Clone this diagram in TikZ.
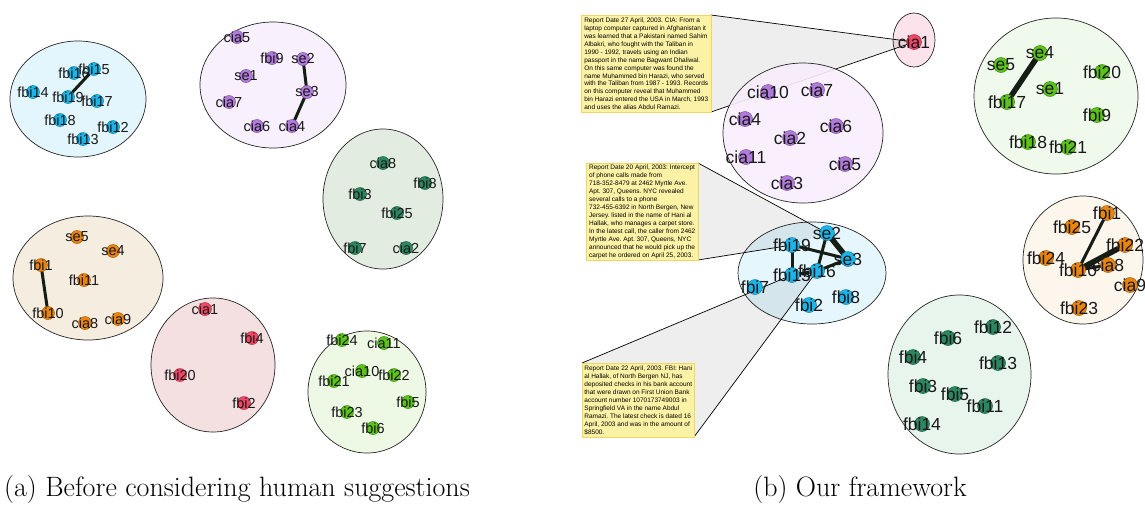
\documentclass[tikz,border=0pt]{standalone}
\usepackage{fontspec}
\newfontfamily\labfont{Liberation Sans}
\usetikzlibrary{shapes.geometric}
\frenchspacing

% node colours
\definecolor{nblue}{HTML}{1CB5EA}
\definecolor{npurp}{HTML}{B07BDA}
\definecolor{ndkgr}{HTML}{2C8761}
\definecolor{norng}{HTML}{E9850F}
\definecolor{nred}{HTML}{EF4765}
\definecolor{nlgr}{HTML}{5CC31B}
% cluster fills
\definecolor{fAblue}{HTML}{E3F6FD}
\definecolor{fApurp}{HTML}{F8F0FC}
\definecolor{fAdkgr}{HTML}{E3ECE1}
\definecolor{fAorng}{HTML}{F5EDE0}
\definecolor{fAred}{HTML}{F4E0E1}
\definecolor{fAlgr}{HTML}{EEF9E5}
\definecolor{fBpink}{HTML}{FCE3EB}
\definecolor{fBpurp}{HTML}{F9EEFD}
\definecolor{fBblue}{HTML}{E5F6FD}
\definecolor{fBgrn}{HTML}{EFF9EC}
\definecolor{fBorng}{HTML}{FCF6EC}
\definecolor{fBdkgr}{HTML}{E7F5EC}
% misc
\definecolor{edgec}{HTML}{151E15}
\definecolor{boxfill}{HTML}{FCF2A6}
\definecolor{boxedge}{HTML}{F0D860}

\tikzset{
  clus/.style={ellipse, draw=black!85, line width=0.7pt, inner sep=0pt},
  lblA/.style={font=\labfont\fontsize{14.5}{15}\selectfont, inner sep=0pt, text=black!90},
  lblB/.style={font=\labfont\fontsize{17.5}{18}\selectfont, inner sep=0pt, text=black!90},
  va/.style 2 args={circle, inner sep=0pt, minimum size=13pt, fill=#1, draw=#1!70!black,
    line width=0.5pt, label={[lblA]center:#2}},
  vb/.style 2 args={circle, inner sep=0pt, minimum size=15pt, fill=#1, draw=#1!70!black,
    line width=0.5pt, label={[lblB]center:#2}},
  lnk/.style={draw=edgec, line width=3pt},
  heavy/.style={draw=edgec, line width=5.5pt},
  tang/.style={draw=black, line width=0.7pt},
  wedge/.style={fill=black, fill opacity=0.065},
  rbox/.style={draw=boxedge, fill=boxfill, line width=0.5pt, inner xsep=2pt, inner ysep=1pt,
    align=left, anchor=north west, text=black,
    font=\labfont\fontsize{6.5}{7.95}\selectfont},
  captxt/.style={font=\fontsize{28}{30}\selectfont, inner sep=0pt}
}

\begin{document}
\begin{tikzpicture}[x=1pt, y=-1pt]
\useasboundingbox (0,0) rectangle (1145,504);

% ================= (a) clusters =================
\node[clus, fill=fAblue, minimum width=136pt, minimum height=116pt] (caB) at (78,99) {};
\node[clus, fill=fApurp, minimum width=146pt, minimum height=126pt] (caP) at (273,85) {};
\node[clus, fill=fAdkgr, minimum width=120pt, minimum height=140pt] (caD) at (383,199) {};
\node[clus, fill=fAorng, minimum width=150pt, minimum height=124pt] (caO) at (88,278) {};
\node[clus, fill=fAred,  minimum width=124pt, minimum height=134pt] (caR) at (213,365) {};
\node[clus, fill=fAlgr,  minimum width=118pt, minimum height=122pt] (caG) at (367,392) {};

% links of (a)
\coordinate (x-ab19) at (68,97);
\coordinate (x-ab15) at (94,69);
\draw[lnk] (x-ab19) -- (x-ab15);
\draw[lnk] (303,59) coordinate (x-ap2) -- (307,92) coordinate (x-ap3);
\draw[lnk] (x-ap3) -- (292,126) coordinate (x-ap4);
\draw[lnk] (41,265) coordinate (x-ao1) -- (48,313) coordinate (x-ao10);

% blue
\node[va={nblue}{fbi16}] (ab-fbi16) at (74,73) {};
\node[va={nblue}{fbi15}] (ab-fbi15) at (x-ab15) {};
\node[va={nblue}{fbi14}] (ab-fbi14) at (33,92) {};
\node[va={nblue}{fbi19}] (ab-fbi19) at (x-ab19) {};
\node[va={nblue}{fbi17}] (ab-fbi17) at (97,101) {};
\node[va={nblue}{fbi18}] (ab-fbi18) at (60,120) {};
\node[va={nblue}{fbi12}] (ab-fbi12) at (113,127) {};
\node[va={nblue}{fbi13}] (ab-fbi13) at (83,139) {};
% purple
\node[va={npurp}{cia5}] (ap-cia5) at (237,37) {};
\node[va={npurp}{fbi9}] (ap-fbi9) at (272,58) {};
\node[va={npurp}{se2}]  (ap-se2)  at (x-ap2) {};
\node[va={npurp}{se1}]  (ap-se1)  at (246,76) {};
\node[va={npurp}{se3}]  (ap-se3)  at (x-ap3) {};
\node[va={npurp}{cia7}] (ap-cia7) at (229,102) {};
\node[va={npurp}{cia6}] (ap-cia6) at (257,126) {};
\node[va={npurp}{cia4}] (ap-cia4) at (x-ap4) {};
% dark green
\node[va={ndkgr}{cia8}]  (ad-cia8)  at (383,163) {};
\node[va={ndkgr}{fbi8}]  (ad-fbi8)  at (425,183) {};
\node[va={ndkgr}{fbi3}]  (ad-fbi3)  at (360,194) {};
\node[va={ndkgr}{fbi25}] (ad-fbi25) at (397,213) {};
\node[va={ndkgr}{fbi7}]  (ad-fbi7)  at (355,248) {};
\node[va={ndkgr}{cia2}]  (ad-cia2)  at (406,248) {};
% orange
\node[va={norng}{se5}]   (ao-se5)   at (77,237) {};
\node[va={norng}{se4}]   (ao-se4)   at (113,251) {};
\node[va={norng}{fbi1}]  (ao-fbi1)  at (x-ao1) {};
\node[va={norng}{fbi11}] (ao-fbi11) at (84,280) {};
\node[va={norng}{fbi10}] (ao-fbi10) at (x-ao10) {};
\node[va={norng}{cia8}]  (ao-cia8)  at (85,323) {};
\node[va={norng}{cia9}]  (ao-cia9)  at (118,319) {};
% red
\node[va={nred}{cia1}]  (ar-cia1)  at (205,309) {};
\node[va={nred}{fbi4}]  (ar-fbi4)  at (252,338) {};
\node[va={nred}{fbi20}] (ar-fbi20) at (180,375) {};
\node[va={nred}{fbi2}]  (ar-fbi2)  at (244,403) {};
% light green
\node[va={nlgr}{fbi24}] (ag-fbi24) at (342,340) {};
\node[va={nlgr}{cia11}] (ag-cia11) at (384,343) {};
\node[va={nlgr}{cia10}] (ag-cia10) at (362,371) {};
\node[va={nlgr}{fbi22}] (ag-fbi22) at (394,375) {};
\node[va={nlgr}{fbi21}] (ag-fbi21) at (334,381) {};
\node[va={nlgr}{fbi5}]  (ag-fbi5)  at (408,402) {};
\node[va={nlgr}{fbi23}] (ag-fbi23) at (347,412) {};
\node[va={nlgr}{fbi6}]  (ag-fbi6)  at (373,428) {};

% ================= (b) =================
% corners of the three report boxes
\coordinate (r1nw) at (581,15);  \coordinate (r1ne) at (711,15);
\coordinate (r1sw) at (581,112); \coordinate (r1se) at (711,112);
\coordinate (r2nw) at (586,163); \coordinate (r2ne) at (698,163);
\coordinate (r2sw) at (586,260); \coordinate (r2se) at (698,260);
\coordinate (r3nw) at (582,363); \coordinate (r3ne) at (694,363);
\coordinate (r3sw) at (582,437); \coordinate (r3se) at (694,437);

\node[clus, fill=fBpink, minimum width=42pt, minimum height=54pt] (cbK) at (914,40) {};

% wedge from the first report to cia1
\coordinate (t-cia1) at (914,42);
\fill[wedge] (r1nw) -- (r1ne) -- (t-cia1) -- (r1se) -- (r1sw) -- cycle;
\draw[tang] (r1ne) -- (t-cia1);
\draw[tang] (r1se) -- (t-cia1);

\node[clus, fill=fBpurp, fill opacity=0.9, minimum width=160pt, minimum height=140pt] (cbV) at (803,133) {};
\node[clus, fill=fBgrn,  minimum width=164pt, minimum height=156pt] (cbG) at (1056,96) {};
\node[clus, fill=fBorng, minimum width=120pt, minimum height=128pt] (cbO) at (1083,260) {};
\node[clus, fill=fBdkgr, minimum width=143pt, minimum height=159pt] (cbD) at (959.5,374.5) {};
\node[clus, fill=fBblue, minimum width=148pt, minimum height=102pt] (cbB) at (812,273) {};

% blue cluster node positions
\coordinate (p19) at (792,245);
\coordinate (p2s) at (827,233);
\coordinate (p3s) at (848,259);
\coordinate (p15) at (792,275);
\coordinate (p16) at (817,271);

% wedges from the other two reports to the linked pairs
\fill[wedge] (r2nw) -- (r2ne) -- (p2s) -- (p19) -- (r2se) -- (r2sw) -- cycle;
\draw[tang] (r2ne) -- (p2s);
\draw[tang] (r2se) -- (p19);
\fill[wedge] (r3nw) -- (p15) -- (p16) -- (r3se) -- (r3sw) -- cycle;
\draw[tang] (r3nw) -- (p15);
\draw[tang] (r3se) -- (p16);

% links of (b)
\draw[lnk] (p19) -- (p15);
\draw[lnk] (p19) -- (p3s);
\draw[heavy] (p2s) -- (p3s);
\draw[lnk] (p2s) -- (p16);
\draw[lnk] (p16) -- (p3s);
\draw[lnk] (p15) -- (p16);
\draw[heavy] (1040,53) coordinate (q-se4) -- (1007,102) coordinate (q-fbi17);
\draw[lnk] (1107,213) coordinate (q-fbi1) -- (1078,270) coordinate (q-fbi10);
\draw[heavy] (q-fbi10) -- (1125,245) coordinate (q-fbi22);
\draw[lnk] (q-fbi10) -- (1108,265) coordinate (q-cia8);

% pink
\node[vb={nred}{cia1}] (bk-cia1) at (t-cia1) {};
% violet
\node[vb={npurp}{cia10}] (bv-cia10) at (768,92) {};
\node[vb={npurp}{cia7}]  (bv-cia7)  at (817,90) {};
\node[vb={npurp}{cia4}]  (bv-cia4)  at (745,119) {};
\node[vb={npurp}{cia6}]  (bv-cia6)  at (836,126) {};
\node[vb={npurp}{cia2}]  (bv-cia2)  at (790,138) {};
\node[vb={npurp}{cia11}] (bv-cia11) at (746,157) {};
\node[vb={npurp}{cia5}]  (bv-cia5)  at (845,164) {};
\node[vb={npurp}{cia3}]  (bv-cia3)  at (787,183) {};
% blue
\node[vb={nblue}{fbi19}] (bb-fbi19) at (p19) {};
\node[vb={nblue}{se2}]   (bb-se2)   at (p2s) {};
\node[vb={nblue}{se3}]   (bb-se3)   at (p3s) {};
\node[vb={nblue}{fbi15}] (bb-fbi15) at (p15) {};
\node[vb={nblue}{fbi16}] (bb-fbi16) at (p16) {};
\node[vb={nblue}{fbi7}]  (bb-fbi7)  at (755,287) {};
\node[vb={nblue}{fbi2}]  (bb-fbi2)  at (809,305) {};
\node[vb={nblue}{fbi8}]  (bb-fbi8)  at (846,297) {};
% green
\node[vb={nlgr}{se5}]   (bg-se5)   at (1001,65) {};
\node[vb={nlgr}{se4}]   (bg-se4)   at (q-se4) {};
\node[vb={nlgr}{fbi20}] (bg-fbi20) at (1102,72) {};
\node[vb={nlgr}{se1}]   (bg-se1)   at (1050,89) {};
\node[vb={nlgr}{fbi17}] (bg-fbi17) at (q-fbi17) {};
\node[vb={nlgr}{fbi9}]  (bg-fbi9)  at (1097,115) {};
\node[vb={nlgr}{fbi18}] (bg-fbi18) at (1028,142) {};
\node[vb={nlgr}{fbi21}] (bg-fbi21) at (1068,147) {};
% orange
\node[vb={norng}{fbi1}]  (bo-fbi1)  at (q-fbi1) {};
\node[vb={norng}{fbi25}] (bo-fbi25) at (1072,227) {};
\node[vb={norng}{fbi22}] (bo-fbi22) at (q-fbi22) {};
\node[vb={norng}{fbi24}] (bo-fbi24) at (1046,258) {};
\node[vb={norng}{fbi10}] (bo-fbi10) at (q-fbi10) {};
\node[vb={norng}{cia8}]  (bo-cia8)  at (q-cia8) {};
\node[vb={norng}{cia9}]  (bo-cia9)  at (1130,285) {};
\node[vb={norng}{fbi23}] (bo-fbi23) at (1079,308) {};
% dark green
\node[vb={ndkgr}{fbi12}] (bd-fbi12) at (993,327) {};
\node[vb={ndkgr}{fbi6}]  (bd-fbi6)  at (948,338) {};
\node[vb={ndkgr}{fbi4}]  (bd-fbi4)  at (913,357) {};
\node[vb={ndkgr}{fbi13}] (bd-fbi13) at (998,363) {};
\node[vb={ndkgr}{fbi3}]  (bd-fbi3)  at (923,386) {};
\node[vb={ndkgr}{fbi5}]  (bd-fbi5)  at (955,394) {};
\node[vb={ndkgr}{fbi11}] (bd-fbi11) at (985,406) {};
\node[vb={ndkgr}{fbi14}] (bd-fbi14) at (922,424) {};

% report boxes, on top of their wedges
\node[rbox, minimum width=130pt, minimum height=97pt] (r1) at (r1nw) {%
Report Date 27 April, 2003. CIA: From a\\
laptop computer captured in Afghanistan it\\
was learned that a Pakistani named Sahim\\
Albakri, who fought with the Taliban in\\
1990 - 1992, travels using an Indian\\
passport in the name Bagwant Dhaliwal.\\
On this same computer was found the\\
name Muhammed bin Harazi, who served\\
with the Taliban from 1987 - 1993. Records\\
on this computer reveal that Muhammed\\
bin Harazi entered the USA in March, 1993\\
and uses the alias Abdul Ramazi.};
\node[rbox, minimum width=112pt, minimum height=97pt] (r2) at (r2nw) {%
Report Date 20 April, 2003: Intercept\\
of phone calls made from\\
718-352-8479 at 2462 Myrtle Ave.\\
Apt. 307, Queens. NYC revealed\\
several calls to a phone\\
732-455-6392 in North Bergen, New\\
Jersey. listed in the name of Hani al\\
Hallak, who manages a carpet store.\\
In the latest call, the caller from 2462\\
Myrtle Ave. Apt. 307, Queens, NYC\\
announced that he would pick up the\\
carpet he ordered on April 25, 2003.};
\node[rbox, minimum width=112pt, minimum height=74pt] (r3) at (r3nw) {%
Report Date 22 April, 2003. FBI: Hani\\
al Hallak, of North Bergen NJ, has\\
deposited checks in his bank account\\
that were drawn on First Union Bank\\
account number 1070173749003 in\\
Springfield VA in the name Abdul\\
Ramazi. The latest check is dated 16\\
April, 2003 and was in the amount of\\
\$8500.};

% captions
\node[captxt, anchor=base west] (capA) at (4,496) {(a) Before considering human suggestions};
\node[captxt, anchor=base] (capB) at (860,496) {(b) Our framework};
\end{tikzpicture}
\end{document}
